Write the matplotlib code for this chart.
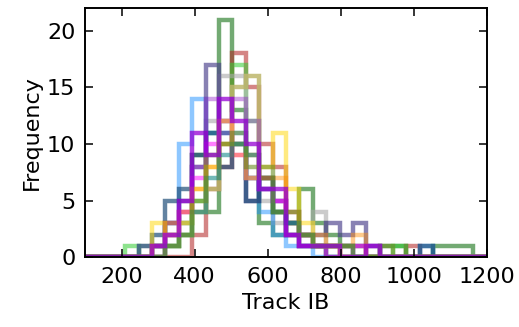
import numpy as np
import matplotlib
matplotlib.use("Agg")
import matplotlib.pyplot as plt

# bin edges shared by all the histograms
bin_edges = np.linspace(100, 1200, 31)

# counts per bin, one list per run
green = [0, 0, 0, 0, 0, 1, 2, 3, 9, 4, 21, 13, 7, 3, 2, 3, 6, 3, 2, 1, 1, 0, 1, 1, 0, 0, 1, 1, 1, 0]
red = [0, 0, 0, 0, 0, 0, 0, 0, 2, 6, 8, 18, 15, 10, 8, 3, 2, 1, 1, 0, 0, 0, 0, 0, 1, 0, 0, 0, 0, 0]
light_green = [0, 0, 0, 1, 0, 0, 1, 2, 5, 11, 12, 17, 12, 7, 4, 2, 1, 1, 0, 0, 0, 0, 0, 1, 0, 0, 0, 0, 0, 0]
gray = [0, 0, 0, 0, 1, 1, 2, 3, 4, 12, 16, 16, 9, 5, 3, 2, 2, 4, 1, 1, 0, 0, 0, 0, 0, 0, 0, 0, 0, 0]
khaki = [0, 0, 0, 0, 0, 0, 1, 2, 4, 6, 10, 15, 16, 7, 4, 3, 2, 1, 1, 0, 0, 0, 0, 0, 0, 0, 0, 0, 0, 0]
light_blue = [0, 0, 0, 0, 0, 1, 3, 10, 14, 11, 11, 11, 7, 4, 2, 1, 1, 0, 0, 0, 0, 0, 0, 0, 0, 1, 0, 0, 0, 0]
slate_blue = [0, 0, 0, 0, 0, 1, 3, 5, 8, 17, 11, 10, 5, 7, 5, 3, 2, 2, 3, 2, 3, 1, 0, 0, 0, 0, 0, 0, 0, 0]
dark_blue = [0, 0, 0, 0, 1, 2, 5, 6, 9, 11, 8, 10, 5, 7, 4, 2, 1, 1, 0, 0, 0, 0, 0, 0, 0, 1, 0, 0, 0, 0]
orchid = [0, 0, 0, 0, 0, 1, 3, 4, 8, 14, 12, 14, 12, 6, 5, 4, 2, 1, 1, 1, 1, 1, 0, 0, 0, 0, 0, 0, 0, 0]
magenta = [0, 0, 0, 0, 0, 0, 2, 4, 7, 10, 12, 9, 7, 6, 5, 2, 1, 1, 0, 0, 1, 0, 0, 0, 0, 0, 0, 0, 0, 0]
yellow = [0, 0, 0, 0, 0, 3, 2, 3, 6, 8, 12, 10, 7, 8, 11, 6, 3, 1, 1, 0, 0, 0, 0, 0, 0, 0, 0, 0, 0, 0]
orange = [0, 0, 0, 0, 0, 1, 3, 4, 6, 8, 10, 9, 9, 7, 7, 4, 2, 2, 1, 1, 2, 0, 0, 0, 0, 0, 0, 0, 0, 0]
teal = [0, 0, 0, 0, 0, 0, 1, 2, 4, 7, 9, 10, 9, 6, 4, 3, 2, 1, 1, 1, 0, 0, 0, 0, 0, 0, 0, 0, 0, 0]
olive = [0, 0, 0, 0, 0, 0, 1, 2, 5, 9, 10, 11, 8, 8, 4, 4, 2, 1, 1, 1, 0, 0, 1, 0, 0, 0, 0, 0, 0, 0]
violet = [0, 0, 0, 0, 0, 1, 2, 5, 11, 9, 14, 12, 10, 6, 6, 2, 1, 1, 1, 0, 0, 1, 0, 0, 0, 0, 0, 0, 0, 0]

runs = [
    (green, "darkgreen", 0.55),
    (red, "firebrick", 0.55),
    (light_green, "limegreen", 0.55),
    (gray, "darkgray", 0.6),
    (khaki, "darkkhaki", 0.85),
    (light_blue, "dodgerblue", 0.5),
    (slate_blue, "darkslateblue", 0.65),
    (dark_blue, "#1f4e79", 0.7),
    (orchid, "darkorchid", 0.45),
    (magenta, "magenta", 0.5),
    (yellow, "gold", 0.5),
    (orange, "darkorange", 0.45),
    (teal, "teal", 0.55),
    (olive, "olivedrab", 0.6),
    (violet, "darkviolet", 0.75),
]

fig, ax = plt.subplots(figsize=(5.19, 3.27), dpi=100)
fig.subplots_adjust(left=0.164, right=0.938, top=0.975, bottom=0.213)

for counts, color, alpha in runs:
    ax.stairs(counts, bin_edges, color=color, alpha=alpha, linewidth=3.2)

ax.set_xlim(100, 1200)
ax.set_ylim(0, 22)
ax.set_xticks([200, 400, 600, 800, 1000, 1200])
ax.set_yticks([0, 5, 10, 15, 20])
ax.tick_params(direction="in", top=True, right=True, length=6, width=1.1, labelsize=16, pad=7)
for spine in ax.spines.values():
    spine.set_linewidth(1.4)
ax.set_xlabel("Track IB", fontsize=16)
ax.set_ylabel("Frequency", fontsize=16)

plt.savefig("out.png", dpi=100)
